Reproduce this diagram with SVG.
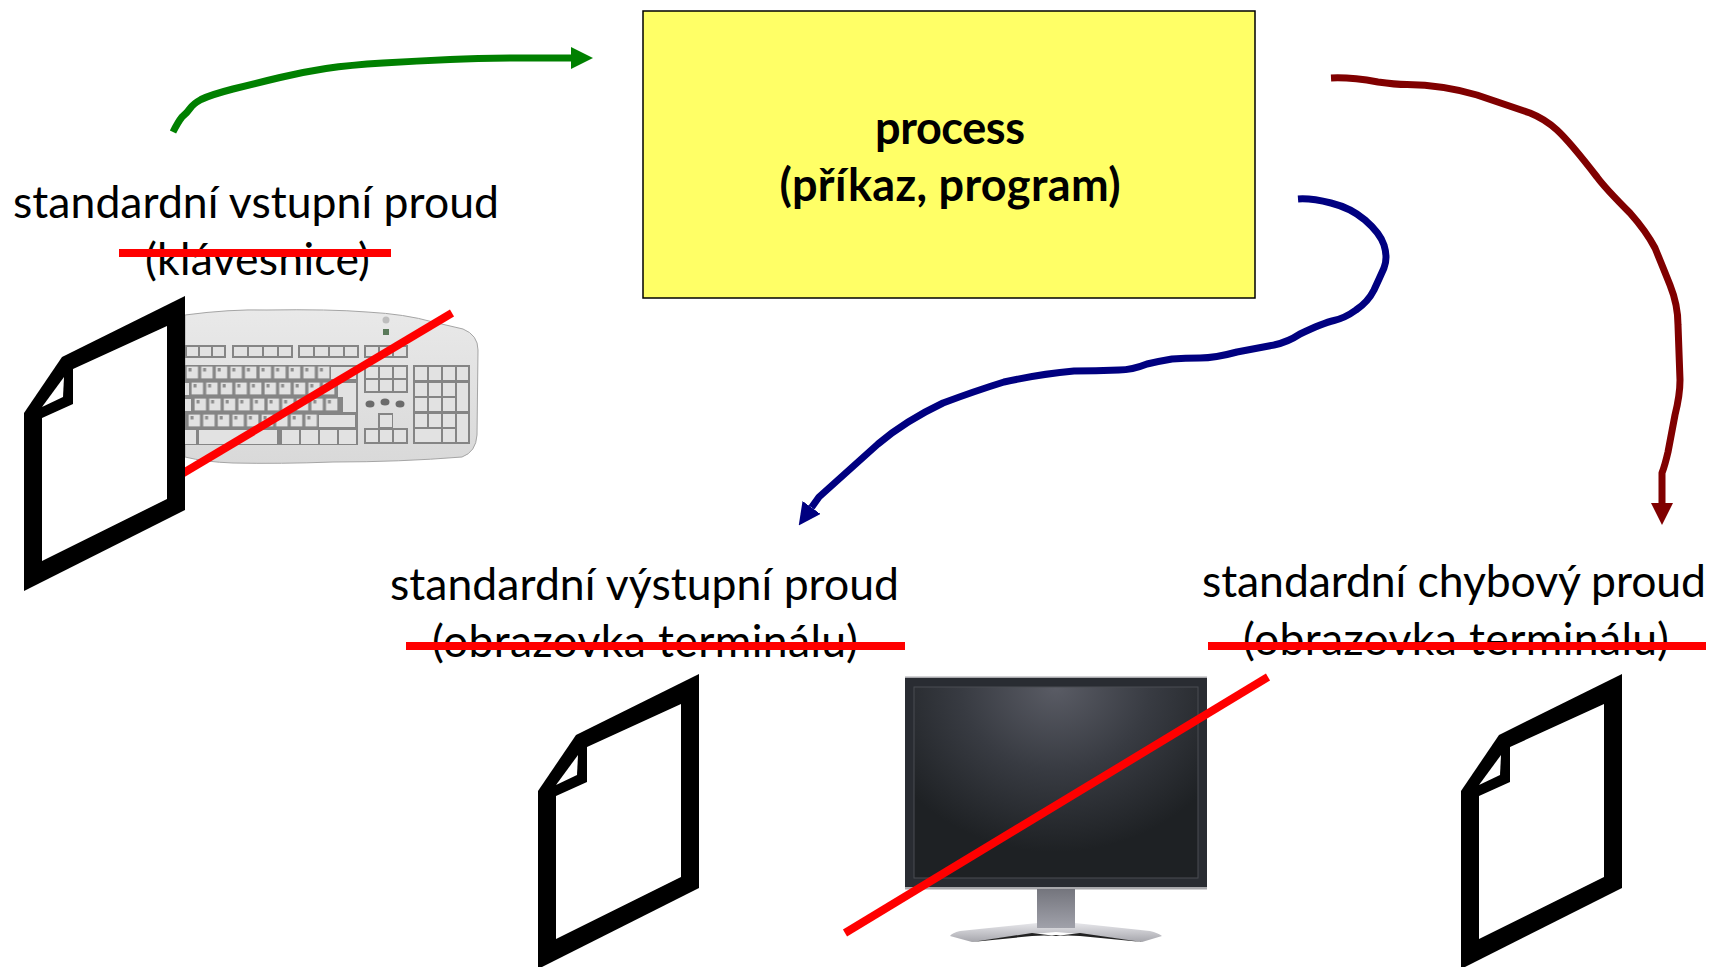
<svg xmlns="http://www.w3.org/2000/svg" width="1711" height="967" viewBox="0 0 1711 967">
<style>
text{font-family:"Lato","Carlito","Liberation Sans",sans-serif;fill:#000;text-anchor:middle}
.lab{font-size:44.5px}
.bold{font-size:45px;font-weight:700}
.flow{fill:none;stroke-width:7;stroke-linejoin:round}
.no{stroke:#f00;fill:none}
.bar{stroke-width:8}
.slash{stroke-width:8}
.grp{fill:#858585}
.key{fill:#e2e2e2}
</style>
<defs>
<marker id="hg" viewBox="0 0 22 22" refX="0" refY="11" markerWidth="22" markerHeight="22" markerUnits="userSpaceOnUse" orient="auto"><path d="M0 0L22 11L0 22Z" fill="#008000"/></marker>
<marker id="hb" viewBox="0 0 22 22" refX="0" refY="11" markerWidth="22" markerHeight="22" markerUnits="userSpaceOnUse" orient="auto"><path d="M0 0L22 11L0 22Z" fill="#000080"/></marker>
<marker id="hr" viewBox="0 0 22 22" refX="0" refY="11" markerWidth="22" markerHeight="22" markerUnits="userSpaceOnUse" orient="auto"><path d="M0 0L22 11L0 22Z" fill="#800000"/></marker>
<symbol id="file" overflow="visible" width="1" height="1">
<path d="M24 413L62 357L185 296V510L24 591Z" fill="#000"/>
<path d="M42 418L73 404L73 369L167 326V499L42 561Z" fill="#fff"/>
<path d="M64 377L63 397L42 407Z" fill="#fff"/>
</symbol>
<pattern id="keys" width="14.6" height="15" patternUnits="userSpaceOnUse">
<rect width="14.6" height="15" fill="#858585"/>
<rect x="1.6" y="1.6" width="11.4" height="11.8" fill="#e2e2e2"/>
<rect x="3.5" y="3" width="3" height="3.5" fill="#8c8c8c"/>
</pattern>
<linearGradient id="kb" x1="0" y1="0" x2="0" y2="1"><stop offset="0" stop-color="#e9e9e9"/><stop offset="1" stop-color="#d9d9d9"/></linearGradient>
<radialGradient id="scr" gradientUnits="userSpaceOnUse" cx="0" cy="0" r="1" gradientTransform="translate(1056 687) scale(190 165)"><stop offset="0" stop-color="#5a5c65"/><stop offset=".5" stop-color="#383b42"/><stop offset="1" stop-color="#1e2124"/></radialGradient>
<linearGradient id="neck" x1="0" y1="0" x2="0" y2="1"><stop offset="0" stop-color="#74757d"/><stop offset="1" stop-color="#a0a1aa"/></linearGradient>
<linearGradient id="base" x1="0" y1="0" x2="0" y2="1"><stop offset="0" stop-color="#e6e6ea"/><stop offset="1" stop-color="#a6a6ac"/></linearGradient>
</defs>

<g id="process">
<rect x="643" y="11" width="612" height="287" fill="#ffff66" stroke="#000" stroke-width="1.5"/>
<text class="bold" x="950" y="144" textLength="150">process</text>
<text class="bold" x="950" y="201" textLength="341">(příkaz, program)</text>
</g>

<g id="stdin">
<text class="lab" x="256" y="218" textLength="486">standardní vstupní proud</text>
<text class="lab" x="257.5" y="275" textLength="225">(klávesnice)</text>
<line class="no bar" x1="119" y1="253" x2="391" y2="253"/>
<g id="keyboard">
<path d="M185 315Q230 309 267 310Q330 309 367 312Q405 314 433 322L463 329Q478 335 478 350L477 435Q476 452 462 457Q400 462 333 462Q280 464 233 463Q205 462 185 457Z" fill="url(#kb)" stroke="#a5a5a5" stroke-width="1"/>
<path d="M185 345H226V358H185ZM232 345H293V358H232ZM298 345H359V358H298ZM364 345H408V358H364Z" class="grp"/>
<rect x="187" y="347" width="11" height="9" class="key"/><rect x="200" y="347" width="11" height="9" class="key"/><rect x="213" y="347" width="11" height="9" class="key"/>
<rect x="234" y="347" width="13" height="9" class="key"/><rect x="249" y="347" width="13" height="9" class="key"/><rect x="264" y="347" width="13" height="9" class="key"/><rect x="279" y="347" width="12" height="9" class="key"/>
<rect x="300" y="347" width="13" height="9" class="key"/><rect x="315" y="347" width="13" height="9" class="key"/><rect x="330" y="347" width="13" height="9" class="key"/><rect x="345" y="347" width="12" height="9" class="key"/>
<rect x="366" y="347" width="12" height="9" class="key"/><rect x="380" y="347" width="12" height="9" class="key"/><rect x="394" y="347" width="12" height="9" class="key"/>
<rect x="185" y="365" width="173" height="80" class="grp"/>
<rect transform="translate(185 365)" width="145" height="15" fill="url(#keys)"/>
<rect x="331" y="367" width="25" height="12" class="key"/>
<rect transform="translate(190 381)" width="146" height="15" fill="url(#keys)"/>
<rect x="185" y="383" width="4" height="12" class="key"/>
<path d="M338 383H356V412H343V397H338Z" class="key"/>
<rect transform="translate(193 397)" width="146" height="15" fill="url(#keys)"/>
<rect x="185" y="399" width="6" height="12" class="key"/>
<rect transform="translate(187 413)" width="131" height="15" fill="url(#keys)"/>
<rect x="319" y="415" width="36" height="12" class="key"/>
<rect x="185" y="430" width="11" height="14" class="key"/>
<rect x="199" y="430" width="78" height="14" class="key"/>
<rect x="282" y="430" width="17" height="14" class="key"/><rect x="301" y="430" width="17" height="14" class="key"/><rect x="320" y="430" width="17" height="14" class="key"/><rect x="339" y="430" width="17" height="14" class="key"/>
<rect x="364" y="365" width="44" height="28" class="grp"/>
<rect x="366" y="367" width="12" height="11" class="key"/><rect x="380" y="367" width="12" height="11" class="key"/><rect x="394" y="367" width="12" height="11" class="key"/>
<rect x="366" y="380" width="12" height="11" class="key"/><rect x="380" y="380" width="12" height="11" class="key"/><rect x="394" y="380" width="12" height="11" class="key"/>
<ellipse cx="370" cy="404" rx="4.5" ry="3.5" fill="#6b6b6b"/><ellipse cx="385" cy="402" rx="4.5" ry="3.5" fill="#6b6b6b"/><ellipse cx="400" cy="404" rx="4.5" ry="3.5" fill="#6b6b6b"/>
<path d="M378 413H393V428H408V444H364V428H378Z" class="grp"/>
<rect x="380" y="415" width="12" height="12" class="key"/><rect x="366" y="430" width="12" height="12" class="key"/><rect x="380" y="430" width="12" height="12" class="key"/><rect x="394" y="430" width="12" height="12" class="key"/>
<rect x="413" y="365" width="57" height="79" class="grp"/>
<rect x="415" y="367" width="12" height="13" class="key"/><rect x="429" y="367" width="12" height="13" class="key"/><rect x="443" y="367" width="12" height="13" class="key"/><rect x="457" y="367" width="11" height="13" class="key"/>
<rect x="415" y="383" width="12" height="13" class="key"/><rect x="429" y="383" width="12" height="13" class="key"/><rect x="443" y="383" width="12" height="13" class="key"/><rect x="457" y="383" width="11" height="28" class="key"/>
<rect x="415" y="398" width="12" height="13" class="key"/><rect x="429" y="398" width="12" height="13" class="key"/><rect x="443" y="398" width="12" height="13" class="key"/>
<rect x="415" y="414" width="12" height="13" class="key"/><rect x="429" y="414" width="12" height="13" class="key"/><rect x="443" y="414" width="12" height="13" class="key"/><rect x="457" y="414" width="11" height="28" class="key"/>
<rect x="415" y="429" width="26" height="13" class="key"/><rect x="443" y="429" width="12" height="13" class="key"/>
<circle cx="386" cy="320" r="3.5" fill="#bdbdbd"/>
<rect x="383" y="329" width="6" height="6" fill="#5a7a5a"/>
</g>
<line class="no slash" x1="180" y1="475" x2="452" y2="313"/>
<use href="#file"/>
</g>

<g id="stdout">
<text class="lab" x="644.5" y="600" textLength="509">standardní výstupní proud</text>
<text class="lab" x="645" y="657" textLength="426">(obrazovka terminálu)</text>
<line class="no bar" x1="406" y1="646" x2="905" y2="646"/>
<use href="#file" transform="translate(514 378)"/>
</g>

<g id="monitor">
<rect x="905" y="677" width="302" height="212" fill="#292c32"/>
<rect x="905" y="676.5" width="302" height="1.5" fill="#a8a8ac"/>
<rect x="905" y="887" width="302" height="2.5" fill="#a8a8ac"/>
<rect x="914" y="687" width="284" height="191" fill="url(#scr)" stroke="#4a4c52" stroke-width="1"/>
<path d="M950 936Q952 933 960 931L1037 923V928H1075V923L1150 931Q1158 933 1162 936L1142 942L1080 934L1056 932L1032 934L972 942Z" fill="url(#base)"/>
<path d="M972 942L1032 933L1056 936L1080 933L1142 942L1080 936L1056 935L1032 936Z" fill="#222"/>
<rect x="1037" y="889" width="38" height="39" fill="url(#neck)"/>
<line class="no slash" x1="845" y1="933" x2="1268" y2="677"/>
</g>

<g id="stderr">
<text class="lab" x="1454" y="597" textLength="504">standardní chybový proud</text>
<text class="lab" x="1456" y="655" textLength="426">(obrazovka terminálu)</text>
<line class="no bar" x1="1208" y1="646" x2="1706" y2="646"/>
<use href="#file" transform="translate(1437 378)"/>
</g>

<g id="connectors">
<path class="flow" stroke="#008000" marker-end="url(#hg)" d="M173 132Q178 122 182 117Q187 113 190 108.5Q193 104 201 99.5Q210 95 233 89Q257 83 280 77.5Q303 72 326 68.5Q350 65 383 63Q417 61 450 59.5Q483 58 527 58L571 58"/>
<path class="flow" stroke="#800000" marker-end="url(#hr)" d="M1331 78Q1350 77 1378 82Q1395 84.500 1407 84.500Q1443 85 1477 95L1530 113Q1545 119 1557 130Q1570 142 1597 177Q1605 188 1630 213Q1646 231 1655 248Q1662 265 1670 285Q1678 305 1678 325L1680 380Q1680 395 1675 415L1668 452Q1665 465 1662 473L1662 503"/>
<path class="flow" stroke="#000080" marker-end="url(#hb)" d="M1298 199Q1311 198 1331 203Q1351 208 1365 220Q1380 233 1384 245Q1388 258 1384 268Q1380 277 1374 290Q1368 302 1356 310Q1345 318 1334 320.5Q1323 323 1300 334Q1288 342 1274 345L1237 352Q1215 358 1200 358Q1185 358 1172 359Q1160 361 1147 364Q1132 370 1119 370Q1095 371 1074 371Q1040 374 1004 382Q975 391 943 403Q905 421 878 444L819 497L811.5 507.5"/>
</g>
</svg>
